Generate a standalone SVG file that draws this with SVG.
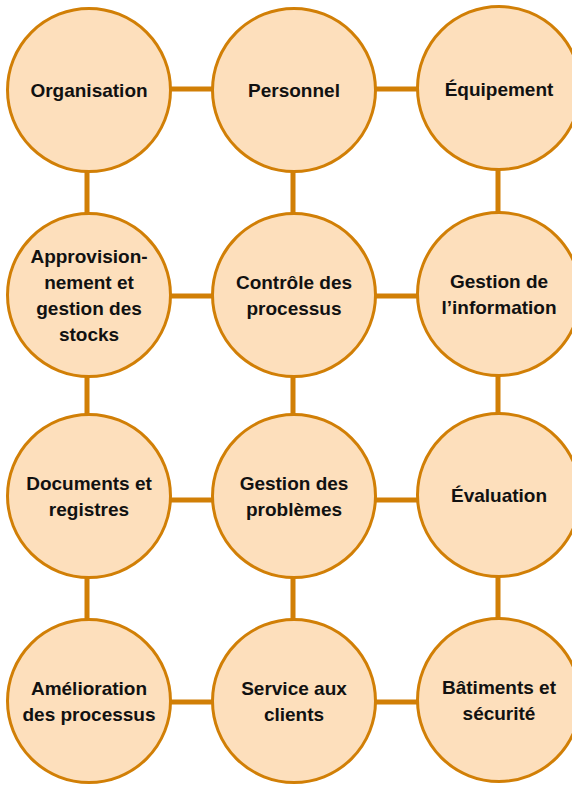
<svg xmlns="http://www.w3.org/2000/svg" width="572" height="786" viewBox="0 0 572 786">
  <style>
    .link { stroke: #D17F06; stroke-width: 5; fill: none; }
    .node circle { fill: #FDDFBC; stroke: #D17F06; stroke-width: 3; }
    .node text { font-family: "Liberation Sans", Arial, sans-serif; font-weight: bold; font-size: 19px; fill: #111; text-anchor: middle; }
  </style>
  <rect width="572" height="786" fill="#FFFFFF"/>

  <!-- connectors: grid of horizontal and vertical links -->
  <g id="connectors">
    <line class="link" x1="89" y1="89" x2="499" y2="89"/>
    <line class="link" x1="89" y1="296" x2="499" y2="296"/>
    <line class="link" x1="89" y1="500" x2="499" y2="500"/>
    <line class="link" x1="89" y1="702" x2="499" y2="702"/>
    <line class="link" x1="87" y1="90" x2="87" y2="701"/>
    <line class="link" x1="293" y1="90" x2="293" y2="701"/>
    <line class="link" x1="498" y1="90" x2="498" y2="701"/>
  </g>

  <!-- row 1 -->
  <g id="organisation" class="node">
    <circle cx="89" cy="90" r="81.5"/>
    <text x="89" y="97">Organisation</text>
  </g>
  <g id="personnel" class="node">
    <circle cx="294" cy="90" r="81.5"/>
    <text x="294" y="97">Personnel</text>
  </g>
  <g id="equipement" class="node">
    <circle cx="499" cy="88" r="81.5"/>
    <text x="499" y="96">Équipement</text>
  </g>

  <!-- row 2 -->
  <g id="approvisionnement" class="node">
    <circle cx="89" cy="295" r="81.5"/>
    <text x="89" y="263">Approvision-</text>
    <text x="89" y="289">nement et</text>
    <text x="89" y="315">gestion des</text>
    <text x="89" y="341">stocks</text>
  </g>
  <g id="controle-processus" class="node">
    <circle cx="294" cy="295" r="81.5"/>
    <text x="294" y="289">Contrôle des</text>
    <text x="294" y="315">processus</text>
  </g>
  <g id="gestion-information" class="node">
    <circle cx="499" cy="294" r="81.5"/>
    <text x="499" y="288">Gestion de</text>
    <text x="499" y="314">l’information</text>
  </g>

  <!-- row 3 -->
  <g id="documents-registres" class="node">
    <circle cx="89" cy="496" r="81.5"/>
    <text x="89" y="490">Documents et</text>
    <text x="89" y="516">registres</text>
  </g>
  <g id="gestion-problemes" class="node">
    <circle cx="294" cy="496" r="81.5"/>
    <text x="294" y="490">Gestion des</text>
    <text x="294" y="516">problèmes</text>
  </g>
  <g id="evaluation" class="node">
    <circle cx="499" cy="495" r="81.5"/>
    <text x="499" y="502">Évaluation</text>
  </g>

  <!-- row 4 -->
  <g id="amelioration-processus" class="node">
    <circle cx="89" cy="701" r="81.5"/>
    <text x="89" y="695">Amélioration</text>
    <text x="89" y="721">des processus</text>
  </g>
  <g id="service-clients" class="node">
    <circle cx="294" cy="701" r="81.5"/>
    <text x="294" y="695">Service aux</text>
    <text x="294" y="721">clients</text>
  </g>
  <g id="batiments-securite" class="node">
    <circle cx="499" cy="700" r="81.5"/>
    <text x="499" y="694">Bâtiments et</text>
    <text x="499" y="720">sécurité</text>
  </g>
</svg>
